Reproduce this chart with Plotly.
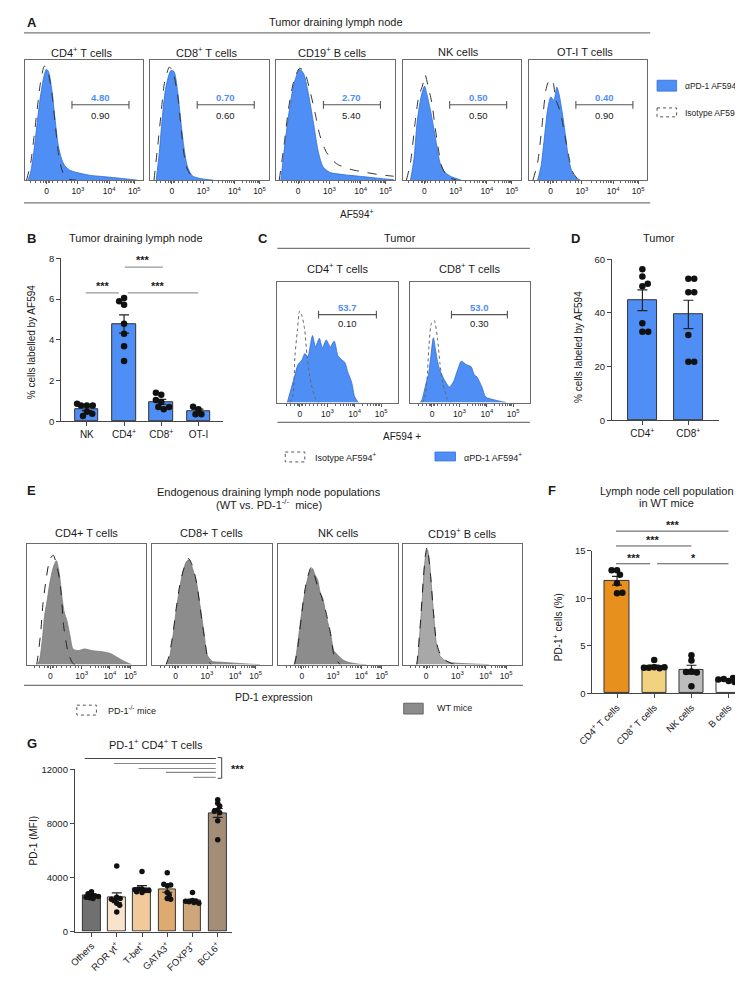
import numpy as np
import plotly.graph_objects as go

W, H = 743, 981
FONT = "Liberation Sans, Arial, sans-serif"

# ===================== DATA =====================
HIST_TICK_TEXT = ["0", "10<sup>3</sup>", "10<sup>4</sup>", "10<sup>5</sup>"]

# ---- Panel A : tumor draining lymph node histograms ----
A_TITLE = "Tumor draining lymph node"
A_CELLS = ["CD4<sup>+</sup> T cells", "CD8<sup>+</sup> T cells", "CD19<sup>+</sup> B cells", "NK cells", "OT-I T cells"]
A_PCT_PD1 = ["4.80", "0.70", "2.70", "0.50", "0.40"]
A_PCT_ISO = ["0.90", "0.60", "5.40", "0.50", "0.90"]

A_CD4_PD1_X = [-0.59, -0.51, -0.41, -0.30, -0.20, -0.09, -0.01, 0.06, 0.17, 0.27, 0.375, 0.48, 0.58, 0.74, 0.95, 1.37, 1.88, 2.4, 2.9]
A_CD4_PD1_Y = [0, 7, 25, 52, 75, 93, 100, 98, 81, 55, 31, 19, 13, 9, 7, 4.4, 3, 1.5, 0]
A_CD4_ISO_X = [-0.64, -0.51, -0.41, -0.30, -0.20, -0.07, 0.03, 0.17, 0.27, 0.375, 0.48, 0.58, 0.74, 0.95]
A_CD4_ISO_Y = [0, 15, 37, 64, 87, 103, 99, 78, 52, 25, 10, 3.5, 0.6, 0]

A_CD8_PD1_X = [-0.5, -0.40, -0.29, -0.19, -0.03, 0.07, 0.18, 0.28, 0.38, 0.49, 0.65, 0.9, 1.32]
A_CD8_PD1_Y = [0, 25, 61, 84, 99, 98, 81, 55, 31, 13, 4, 1.5, 0]
A_CD8_ISO_X = [-0.57, -0.45, -0.34, -0.24, -0.08, 0.02, 0.18, 0.28, 0.38, 0.49, 0.65, 0.8]
A_CD8_ISO_Y = [0, 31, 61, 87, 102, 99, 78, 52, 25, 10, 3, 0]

A_CD19_PD1_X = [-0.55, -0.45, -0.29, -0.13, 0.05, 0.18, 0.33, 0.49, 0.65, 0.8, 1.01, 1.43, 1.95, 2.47, 2.8, 3.05]
A_CD19_PD1_Y = [0, 25, 61, 87, 100, 96, 78, 52, 25, 12, 7, 5, 3.5, 2, 1, 0.5]
A_CD19_ISO_X = [-0.6, -0.45, -0.29, -0.13, 0.05, 0.2, 0.36, 0.54, 0.7, 0.91, 1.22, 1.64, 2.16, 2.57, 2.88, 3.05]
A_CD19_ISO_Y = [0, 31, 67, 90, 101, 98, 83, 61, 40, 25, 15, 10, 7, 5, 4, 3.5]

A_NK_PD1_X = [-0.44, -0.33, -0.23, -0.125, -0.05, 0.01, 0.08, 0.19, 0.29, 0.4, 0.5, 0.66, 0.87, 1.02, 1.18]
A_NK_PD1_Y = [0, 19, 52, 72, 81, 85, 78, 64, 49, 31, 16, 7, 3, 1.5, 0]
A_NK_ISO_X = [-0.57, -0.44, -0.28, -0.18, -0.05, 0.03, 0.11, 0.24, 0.34, 0.45, 0.55, 0.71, 0.87, 1.02]
A_NK_ISO_Y = [0, 16, 55, 75, 86, 95, 86, 70, 49, 28, 13, 4, 1.5, 0]

A_OT1_PD1_X = [-0.41, -0.30, -0.2, -0.09, 0.01, 0.11, 0.2, 0.27, 0.375, 0.48, 0.58, 0.74, 0.95]
A_OT1_PD1_Y = [0, 13, 37, 64, 75, 72, 84, 78, 61, 40, 19, 4, 0]
A_OT1_ISO_X = [-0.56, -0.41, -0.27, -0.15, -0.06, 0.01, 0.08, 0.16, 0.32, 0.46, 0.58, 0.71, 0.9]
A_OT1_ISO_Y = [0, 16, 49, 81, 89, 86, 88, 74, 61, 40, 22, 7, 0]

# ---- Panel B ----
B_TITLE = "Tumor draining lymph node"
B_CATS = ["NK", "CD4<sup>+</sup>", "CD8<sup>+</sup>", "OT-I"]
B_NK = [0.78, 0.78, 0.78, 0.87, 0.47, 0.26, 0.37]
B_CD4 = [6.05, 5.72, 5.89, 4.79, 4.3, 3.69, 2.96]
B_CD8 = [1.3, 0.95, 1.05, 1.4, 0.7, 0.6, 0.7]
B_OT1 = [0.6, 0.35, 0.35, 0.72]
B_YTICKS = [0, 2, 4, 6, 8]

# ---- Panel C : tumor histograms ----
C_CELLS = ["CD4<sup>+</sup> T cells", "CD8<sup>+</sup> T cells"]
C_PCT_PD1 = ["53.7", "53.0"]
C_PCT_ISO = ["0.10", "0.30"]
C_CD4_PD1_X = [-0.46, -0.36, -0.21, -0.07, 0.07, 0.18, 0.29, 0.39, 0.46, 0.57, 0.71, 0.82, 0.96, 1.11, 1.25, 1.39, 1.54, 1.64, 1.75, 1.89, 2.0, 2.14]
C_CD4_PD1_Y = [0, 9, 22, 34, 38, 44, 41, 53, 60, 50, 57.5, 49, 56, 50, 55, 42, 38, 36, 27, 18, 5, 0]
C_CD4_ISO_X = [-0.36, -0.25, -0.18, -0.09, -0.01, 0.07, 0.17, 0.26, 0.4, 0.58, 0.71]
C_CD4_ISO_Y = [0, 7, 42, 65, 82, 78, 66, 42, 18, 3, 0]
C_CD8_PD1_X = [-0.43, -0.36, -0.21, -0.13, -0.04, 0.05, 0.13, 0.21, 0.29, 0.46, 0.64, 0.79, 0.93, 1.07, 1.25, 1.43, 1.54, 1.64, 1.82, 1.96, 2.25, 2.71]
C_CD8_PD1_Y = [0, 3, 18, 25, 42, 58, 47, 36, 29, 20, 14, 19, 29, 37, 34, 32, 25, 23, 14, 5, 2.6, 0]
C_CD8_ISO_X = [-0.36, -0.28, -0.19, -0.11, -0.02, 0.08, 0.2, 0.29, 0.39, 0.57, 0.7]
C_CD8_ISO_Y = [0, 3, 18, 51, 71, 73.5, 57.5, 35, 18, 3, 0]

# ---- Panel D ----
D_CATS = ["CD4<sup>+</sup>", "CD8<sup>+</sup>"]
D_CD4 = [56.3, 53.6, 49.9, 50.9, 36.2, 33.0, 33.0]
D_CD8 = [52.7, 52.7, 47.7, 47.7, 31.8, 21.8, 21.8]
D_YTICKS = [0, 20, 40, 60]

# ---- Panel E : endogenous PD-1 histograms ----
E_CELLS = ["CD4+ T cells", "CD8+ T cells", "NK cells", "CD19<sup>+</sup> B cells"]
E_CD4_WT_X = [-0.41, -0.34, -0.25, -0.19, -0.09, -0.02, 0.09, 0.19, 0.28, 0.36, 0.44, 0.53, 0.63, 0.72, 0.88, 1.09, 1.34, 1.66, 1.91, 2.16, 2.38, 2.59]
E_CD4_WT_Y = [0, 5, 25, 43, 60, 73, 87, 93, 82, 62, 47, 39, 25, 14, 12.5, 14, 12.5, 11.5, 10, 6, 2.6, 0]
E_CD4_KO_X = [-0.44, -0.41, -0.31, -0.24, -0.13, -0.02, 0.09, 0.19, 0.31, 0.42, 0.5, 0.58, 0.72, 0.78]
E_CD4_KO_Y = [0, 5, 29, 54, 78, 94, 98, 90, 73, 35, 20, 9, 1, 0]
E_CD8_WT_X = [-0.31, -0.21, -0.09, 0.01, 0.13, 0.23, 0.34, 0.43, 0.53, 0.67, 0.75, 0.83, 0.92, 1.0, 1.16, 1.44, 1.9, 2.38, 2.69]
E_CD8_WT_Y = [0, 5, 25, 47, 69, 83, 92, 94, 87, 73, 58, 43, 25, 9, 3, 2.2, 1.3, 0.4, 0]
E_CD8_KO_X = [-0.31, -0.22, -0.09, 0.01, 0.13, 0.25, 0.41, 0.53, 0.67, 0.83, 0.94, 1.03, 1.13]
E_CD8_KO_Y = [0, 7, 27, 49, 71, 85, 95, 89, 73, 41, 20, 5, 0]
E_NK_WT_X = [-0.25, -0.18, -0.07, 0.03, 0.13, 0.19, 0.28, 0.34, 0.41, 0.5, 0.59, 0.66, 0.79, 0.92, 1.02, 1.13, 1.28, 1.44, 1.84, 2.06]
E_NK_WT_Y = [0, 9, 33, 54, 70, 78, 85, 86, 81, 76, 64, 60, 42, 27, 12.5, 9, 4.7, 2.4, 0.3, 0]
E_NK_KO_X = [-0.25, -0.22, -0.12, -0.02, 0.06, 0.13, 0.22, 0.29, 0.38, 0.5, 0.6, 0.76, 0.92, 1.02, 1.13, 1.22]
E_NK_KO_Y = [0, 1.8, 18, 42, 60, 72, 82, 87, 82, 70, 63, 48, 27, 9, 3.3, 0]
E_CD19_WT_X = [-0.3, -0.26, -0.19, -0.12, -0.08, -0.02, 0.04, 0.09, 0.13, 0.23, 0.33, 0.44, 0.59, 0.8, 1.22, 1.74, 2.0]
E_CD19_WT_Y = [0, 6.2, 33, 60, 78, 97, 103, 96, 84, 48, 18, 7.8, 3.8, 1.8, 0.9, 0.3, 0]
E_CD19_KO_X = [-0.3, -0.27, -0.19, -0.09, -0.02, 0.03, 0.09, 0.14, 0.23, 0.33, 0.44, 0.59, 0.81, 1.06]
E_CD19_KO_Y = [0, 8, 35, 77, 99, 105, 94, 80, 48, 20, 10, 4.5, 1, 0]

# ---- Panel F ----
F_CATS = ["CD4<sup>+</sup> T cells", "CD8<sup>+</sup> T cells", "NK cells", "B cells"]
F_CD4 = [12.95, 12.5, 12.95, 11.6, 10.55, 10.6]
F_CD8 = [2.75, 2.65, 3.5, 2.7, 2.75, 2.7]
F_NK = [4.0, 3.45, 2.3, 2.2, 2.25, 0.75]
F_B = [1.3, 1.6, 1.5, 1.4, 1.45, 1.2]
F_YTICKS = [0, 5, 10, 15]

# ---- Panel G ----
G_CATS = ["Others", "ROR γt<sup>+</sup>", "T-bet<sup>+</sup>", "GATA3<sup>+</sup>", "FOXP3<sup>+</sup>", "BCL6<sup>+</sup>"]
G_OTHERS = [2700, 2650, 2800, 2950, 2500, 2450, 2550, 2600]
G_ROR = [4850, 2550, 2450, 2100, 1950, 2300, 1450, 2400]
G_TBET = [4450, 3150, 3050, 3150, 2900, 2950, 3050, 3100]
G_GATA3 = [4350, 3400, 3450, 3500, 2450, 2400, 2900, 2700]
G_FOXP3 = [2900, 2300, 2250, 2200, 2100, 2250, 2150]
G_BCL6 = [9750, 9500, 9300, 9000, 8800, 8200, 6800, 8900]
G_YTICKS = [0, 4000, 8000, 12000]

# ===================== STYLE / LAYOUT HELPERS =====================
BLUE = "#4F8EF5"
BLUE_LINE = "#2F6FD8"
TXT = "#1a1a1a"


def fx(px):
    return px / W


def fy(py):
    return 1 - py / H


fig = go.Figure()
layout_axes = {}
shapes = []
annots = []
_n = [0]


def new_axes(x0, x1, ytop, ybot, xcfg, ycfg):
    _n[0] += 1
    s = "" if _n[0] == 1 else str(_n[0])
    layout_axes["xaxis" + s] = dict(domain=[fx(x0), fx(x1)], anchor="y" + s, **xcfg)
    layout_axes["yaxis" + s] = dict(domain=[fy(ybot), fy(ytop)], anchor="x" + s, **ycfg)
    return "x" + s, "y" + s


def line(x0, y0, x1, y1, color="#666", width=1, dash=None, xref="paper", yref="paper"):
    ln = dict(color=color, width=width)
    if dash:
        ln["dash"] = dash
    if xref == "paper":
        x0, x1 = fx(x0), fx(x1)
    if yref == "paper":
        y0, y1 = fy(y0), fy(y1)
    shapes.append(dict(type="line", xref=xref, yref=yref, x0=x0, y0=y0, x1=x1, y1=y1, line=ln, layer="above"))


def rect(x0, y0, x1, y1, fill, lcolor, dash=None, lw=1):
    ln = dict(color=lcolor, width=lw)
    if dash:
        ln["dash"] = dash
    shapes.append(dict(type="rect", xref="paper", yref="paper", x0=fx(x0), y0=fy(y0), x1=fx(x1), y1=fy(y1),
                       fillcolor=fill, line=ln))


def text(x, y, s, size=10, color=TXT, bold=False, xanchor="center", angle=0, xref="paper", yref="paper"):
    if xref == "paper":
        x = fx(x)
    if yref == "paper":
        y = fy(y)
    annots.append(dict(xref=xref, yref=yref, x=x, y=y, text=("<b>%s</b>" % s) if bold else s,
                       showarrow=False, font=dict(size=size, color=color, family=FONT),
                       xanchor=xanchor, yanchor="middle", textangle=angle))


def minor_ticks(t):
    m = [v * t[1] for v in (-0.5, -0.35, -0.2, -0.1, -0.05, 0.05, 0.1, 0.2, 0.35, 0.5, 0.65, 0.8, 0.9)]
    for a, b in ((t[1], t[2]), (t[2], t[3])):
        for k in range(2, 10):
            m.append(a + np.log10(k) * (b - a))
    return m


def hist_axes(x0, width, ytop, ybot, xrange, ticks):
    xcfg = dict(range=xrange, tickvals=ticks, ticktext=HIST_TICK_TEXT, ticks="outside", ticklen=3,
                tickwidth=1, tickcolor="#555", showline=True, mirror=True, linecolor="#6a6a6a",
                linewidth=1, showgrid=False, zeroline=False,
                tickfont=dict(size=8.5, color=TXT, family=FONT),
                minor=dict(tickvals=minor_ticks(ticks), ticks="outside", ticklen=2, tickcolor="#666", showgrid=False))
    ycfg = dict(range=[0, 108], showline=True, mirror=True, linecolor="#6a6a6a", linewidth=1,
                ticks="", showticklabels=False, showgrid=False, zeroline=False)
    return new_axes(x0, x0 + width, ytop, ybot, xcfg, ycfg)


def add_hist(xr, yr, X, Y, fill, lcolor, lw=0.8, dash=None):
    ln = dict(color=lcolor, width=lw, shape="spline", smoothing=0.7)
    if dash:
        ln["dash"] = dash
    fig.add_trace(go.Scatter(x=X, y=Y, xaxis=xr, yaxis=yr, mode="lines", line=ln,
                             fill="tozeroy" if fill else None, fillcolor=fill, hoverinfo="skip"))


def gate(xr, yr, u0, u1, yl, ytop, ybot, top_txt, bot_txt, size=9.5):
    line(u0, yl, u1, yl, color="#555", width=1.1, xref=xr, yref=yr)
    line(u0, yl - 3.5, u0, yl + 3.5, color="#555", width=1.1, xref=xr, yref=yr)
    line(u1, yl - 3.5, u1, yl + 3.5, color="#555", width=1.1, xref=xr, yref=yr)
    um = (u0 + u1) / 2
    text(um, ytop, top_txt, size=size, color=BLUE, bold=True, xref=xr, yref=yr)
    text(um, ybot, bot_txt, size=size, color=TXT, xref=xr, yref=yr)


def swarm(values, ypu, xpu, d, maxoff, frac):
    """Pixel-based beeswarm offsets (in category units) limited to the bar width."""
    placed, offs = [], []
    cands = sorted(np.arange(-maxoff, maxoff + 0.01, 0.5), key=lambda v: (abs(v), v))
    mind = d * frac
    for v in values:
        ypx = v * ypu
        best, bestd = 0.0, -1.0
        for xo in cands:
            md = min([np.hypot(xo - px, ypx - py) for px, py in placed], default=1e9)
            if md >= mind:
                best = xo
                break
            if md > bestd:
                bestd, best = md, xo
        placed.append((best, ypx))
        offs.append(best / xpu)
    return offs


def bar_panel(x0, x1, ytop, ybot, cats, groups, colors, yticks, xrange, bw, tickangle=0,
              cat_size=10, msize=6.5, frac=0.9):
    xcfg = dict(range=xrange, tickvals=list(range(len(cats))), ticktext=cats, ticks="outside", ticklen=4,
                tickcolor="#444", showline=True, linecolor="#444", linewidth=1.1, showgrid=False,
                zeroline=False, tickangle=tickangle, tickfont=dict(size=cat_size, color=TXT, family=FONT))
    ycfg = dict(range=[yticks[0], yticks[-1]], tickvals=yticks, ticktext=["%g" % v for v in yticks],
                ticks="outside", ticklen=4, tickcolor="#444",
                showline=True, linecolor="#444", linewidth=1.1, showgrid=False, zeroline=False,
                tickfont=dict(size=9.5, color=TXT, family=FONT))
    xr, yr = new_axes(x0, x1, ytop, ybot, xcfg, ycfg)
    means = [float(np.mean(g)) for g in groups]
    sems = [float(np.std(g, ddof=1) / np.sqrt(len(g))) for g in groups]
    fig.add_trace(go.Bar(x=list(range(len(cats))), y=means, width=bw, xaxis=xr, yaxis=yr,
                         marker=dict(color=colors, line=dict(color="#333", width=1)),
                         error_y=dict(type="data", array=sems, visible=True, color="#222", thickness=1.2, width=5),
                         hoverinfo="skip"))
    ypu = (ybot - ytop) / (yticks[-1] - yticks[0])
    xpu = (x1 - x0) / (xrange[1] - xrange[0])
    maxoff = bw * xpu / 2 - 2
    for i, g in enumerate(groups):
        offs = swarm(g, ypu, xpu, msize, maxoff, frac)
        fig.add_trace(go.Scatter(x=[i + o for o in offs], y=g, xaxis=xr, yaxis=yr, mode="markers",
                                 marker=dict(size=msize, color="#111"), hoverinfo="skip", cliponaxis=False))
    return xr, yr


# ===================== PANEL A =====================
text(8, 9, "A", size=13, bold=True)
text(319, 8, A_TITLE, size=11)
line(0, 19, 640, 19, color="#777", width=1.2)
A_LEFTS = [1, 129, 258, 387, 516]
A_W = 121
A_TICKS = [0, 1, 2, 2.8]
A_HISTS = [
    (A_CD4_PD1_X, A_CD4_PD1_Y, A_CD4_ISO_X, A_CD4_ISO_Y),
    (A_CD8_PD1_X, A_CD8_PD1_Y, A_CD8_ISO_X, A_CD8_ISO_Y),
    (A_CD19_PD1_X, A_CD19_PD1_Y, A_CD19_ISO_X, A_CD19_ISO_Y),
    (A_NK_PD1_X, A_NK_PD1_Y, A_NK_ISO_X, A_NK_ISO_Y),
    (A_OT1_PD1_X, A_OT1_PD1_Y, A_OT1_ISO_X, A_OT1_ISO_Y),
]
for i, left in enumerate(A_LEFTS):
    xr, yr = hist_axes(left, A_W, 47, 168, [-0.69, 3.09], A_TICKS)
    px, py, ix, iy = A_HISTS[i]
    add_hist(xr, yr, px, py, BLUE, BLUE_LINE)
    add_hist(xr, yr, ix, iy, None, "#333", lw=1, dash="dash")
    gate(xr, yr, 0.81, 2.63, 68, 75, 58, A_PCT_PD1[i], A_PCT_ISO[i])
    text(left + A_W / 2 - 3, 38, A_CELLS[i], size=11)
line(0, 191, 640, 191, color="#777", width=1.2)
text(340, 202, "AF594<sup>+</sup>", size=10)
# legend A
rect(647, 67, 667, 78, BLUE, BLUE_LINE, lw=0.8)
text(673, 72, "αPD-1 AF594<sup>+</sup>", size=8.5, xanchor="left")
rect(647, 95, 667, 104, "white", "#555", dash="dot", lw=1)
text(674, 100, "Isotype AF594<sup>+</sup>", size=8.5, xanchor="left")

# ===================== PANEL B =====================
text(8, 227, "B", size=13, bold=True)
text(114, 227, B_TITLE, size=11)
bar_panel(38, 203, 247, 412, B_CATS, [B_NK, B_CD4, B_CD8, B_OT1], [BLUE] * 4, B_YTICKS,
          [-0.69, 3.65], 0.63)
text(7, 332, "% cells labelled by AF594", size=10, angle=-90)
for (xa, xb, yl, xs) in [(63, 97, 282, 81), (106, 178, 282, 137), (103, 142, 256, 122)]:
    line(xa, yl, xb, yl, color="#999", width=1.3)
    text(xs, yl - 7, "***", size=11, bold=True)

# ===================== PANEL C =====================
text(244, 227, "C", size=13, bold=True)
text(384, 227, "Tumor", size=11)
line(259, 237, 517, 237, color="#777", width=1.2)
C_LEFTS = [259, 394]
C_W = 123
C_TICKS = [0, 1, 2, 2.96]
C_HISTS = [
    (C_CD4_PD1_X, C_CD4_PD1_Y, C_CD4_ISO_X, C_CD4_ISO_Y, (0.68, 2.79)),
    (C_CD8_PD1_X, C_CD8_PD1_Y, C_CD8_ISO_X, C_CD8_ISO_Y, (0.71, 2.75)),
]
for i, left in enumerate(C_LEFTS):
    xr, yr = hist_axes(left, C_W, 271, 393, [-0.82, 3.57], C_TICKS)
    px, py, ix, iy, g = C_HISTS[i]
    add_hist(xr, yr, px, py, BLUE, BLUE_LINE)
    add_hist(xr, yr, ix, iy, None, "#666", lw=1, dash="dot")
    gate(xr, yr, g[0], g[1], 78.8, 85.5, 70.5, C_PCT_PD1[i], C_PCT_ISO[i])
    text(left + C_W / 2, 257, C_CELLS[i], size=11)
line(259, 413, 517, 413, color="#777", width=1.2)
text(386, 427, "AF594 +", size=10)
rect(267, 443, 287, 453, "white", "#555", dash="dot", lw=1)
text(295, 448, "Isotype AF594<sup>+</sup>", size=9, xanchor="left")
rect(420, 443, 441, 452, BLUE, BLUE_LINE, lw=0.8)
text(448, 448, "αPD-1 AF594<sup>+</sup>", size=9, xanchor="left")

# ===================== PANEL D =====================
text(564, 227, "D", size=13, bold=True)
text(649, 227, "Tumor", size=11)
bar_panel(601, 710, 248, 411, D_CATS, [D_CD4, D_CD8], [BLUE] * 2, D_YTICKS, [-0.66, 1.66], 0.64)
text(566, 337, "% cells labeled by AF594", size=10, angle=-90)

# ===================== PANEL E =====================
text(8, 482, "E", size=13, bold=True)
text(250, 483, "Endogenous draining lymph node populations", size=11)
text(250, 496, "(WT vs. PD-1<sup>-/-</sup>  mice)", size=11)
E_LEFTS = [3, 131, 260, 387]
E_W = 122
E_TICKS = [0, 1, 1.9, 2.55]
E_FILLS = ["#8C8C8C", "#8C8C8C", "#8C8C8C", "#A8A8A8"]
E_HISTS = [
    (E_CD4_WT_X, E_CD4_WT_Y, E_CD4_KO_X, E_CD4_KO_Y),
    (E_CD8_WT_X, E_CD8_WT_Y, E_CD8_KO_X, E_CD8_KO_Y),
    (E_NK_WT_X, E_NK_WT_Y, E_NK_KO_X, E_NK_KO_Y),
    (E_CD19_WT_X, E_CD19_WT_Y, E_CD19_KO_X, E_CD19_KO_Y),
]
for i, left in enumerate(E_LEFTS):
    xr, yr = hist_axes(left, E_W, 536, 658, [-0.75, 3.06], E_TICKS)
    wx, wy, kx, ky = E_HISTS[i]
    add_hist(xr, yr, wx, wy, E_FILLS[i], "#7a7a7a")
    add_hist(xr, yr, kx, ky, None, "#222", lw=1, dash="dash")
    text(left + E_W / 2, 525, E_CELLS[i], size=11)
line(0, 679, 510, 679, color="#777", width=1.2)
text(255, 691, "PD-1 expression", size=10.5)
rect(54, 699, 74, 709, "white", "#555", dash="dot", lw=1)
text(84, 704, "PD-1<sup>-/-</sup> mice", size=9, xanchor="left")
rect(388, 697, 408, 708, "#8C8C8C", "#555", lw=0.8)
text(420, 702, "WT mice", size=9, xanchor="left")

# ===================== PANEL F =====================
text(540, 482, "F", size=13, bold=True)
text(657, 482, "Lymph node cell population", size=11)
text(657, 495, "in WT mice", size=11)
bar_panel(581, 740, 543, 687, F_CATS, [F_CD4, F_CD8, F_NK, F_B],
          ["#E8901E", "#F3D27F", "#BDBDBD", "#FFFFFF"], F_YTICKS, [-0.66, 3.52], 0.66,
          tickangle=-45, cat_size=9.5, frac=0.8)
text(546, 620, "PD-1<sup>+</sup> cells (%)", size=10, angle=-90)
for (xa, xb, yl, xs, s) in [(605, 720, 523, 663, "***"), (605, 682, 538, 643, "***"),
                            (605, 640, 556, 623, "***"), (647, 720, 556, 684, "*")]:
    line(xa, yl, xb, yl, color="#555", width=1)
    text(xs, yl - 6, s, size=11, bold=True)

# ===================== PANEL G =====================
text(8, 738, "G", size=13, bold=True)
text(135, 738, "PD-1<sup>+</sup> CD4<sup>+</sup> T cells", size=11)
bar_panel(52, 213, 764, 928, G_CATS, [G_OTHERS, G_ROR, G_TBET, G_GATA3, G_FOXP3, G_BCL6],
          ["#707070", "#F8E4CD", "#F0CA9B", "#DDAA70", "#CFA57A", "#A38D77"], G_YTICKS,
          [-0.66, 5.58], 0.7, tickangle=-45, cat_size=9.5, msize=5.5, frac=0.6)
text(10, 836, "PD-1 (MFI)", size=10, angle=-90)
for k, (xa, yl) in enumerate([(62, 753), (92, 758), (117, 763), (145, 767), (173, 772)]):
    line(xa, yl, 196, yl, color="#444" if k == 0 else "#888", width=1.1)
line(202, 752, 202, 773, color="#555", width=1.1)
line(198, 752, 202, 752, color="#555", width=1.1)
line(198, 773, 202, 773, color="#555", width=1.1)
text(219, 764, "***", size=11, bold=True)

fig.update_layout(
    width=W, height=H, margin=dict(l=0, r=0, t=0, b=0),
    paper_bgcolor="white", plot_bgcolor="white", showlegend=False,
    font=dict(family=FONT, color=TXT), shapes=shapes, annotations=annots,
    bargap=0, **layout_axes,
)
fig.write_html("out.html")
